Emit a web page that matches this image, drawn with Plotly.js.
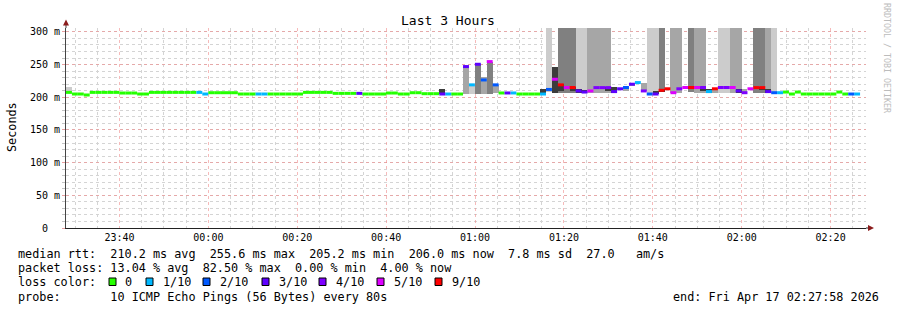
<!DOCTYPE html>
<html><head><meta charset="utf-8">
<script src="https://cdn.plot.ly/plotly-3.0.1.min.js"></script>
<style>html,body{margin:0;padding:0;background:#fff}#chart{width:897px;height:310px}</style>
</head><body><div id="chart"></div>
<script>
// ---- data ----
const stepMs = 80000; // one probe round = 80 s
const startTime = Date.UTC(2026, 3, 16, 23, 27, 58);
const endTime = Date.UTC(2026, 3, 17, 2, 27, 58);

// median rtt per probe round (ms)
const medianMs = [
  207.5,205,205,203.5,207.5,207.5,207.5,207.5,207.5,206.5,
  206.5,206.5,205,205,207.5,207.5,207.5,207.5,207.5,207.5,
  207.5,207.5,207.5,205,207,207,207,207,207,205,
  205,205,205,205,205,205,205,205,205,205,
  207.5,207.5,207.5,207.5,207.5,206,206,206,206,206,
  205,205,205,205,206.5,206.5,205,205,207,207,
  205.5,205.5,205.5,205,205,205,205,247,219,250.5,
  226.5,254.6,219,206.6,206.6,206.6,205,205,205,205,
  205,212,227.6,219,215,215,209.7,208,209.7,214.8,
  214.8,214.8,208.7,213,215,220,222.5,209.7,205,205,
  210.7,213,207,213,215,215,215,215,208.7,213,
  215,215,215,209.7,207,213,214.8,214.8,208.7,207,
  207,208,205,208,205,205,205,205,205,205,
  208,205,205,205
];
// lost pings (of 10) per probe round
const lostPings = [
  0,0,0,0,0,0,0,0,0,0,
  0,0,0,0,0,0,0,0,0,0,
  0,0,1,1,0,0,0,0,0,0,
  0,0,1,1,0,0,0,0,0,0,
  0,0,0,0,0,0,0,0,0,3,
  0,0,0,0,0,0,0,0,0,0,
  0,0,0,3,1,0,0,3,1,3,
  2,5,2,0,3,1,0,0,0,0,
  1,2,5,9,5,9,3,3,5,4,
  4,4,3,3,2,3,1,4,2,3,
  9,9,5,4,5,9,5,4,1,9,
  4,4,5,3,4,5,9,9,3,2,
  1,0,0,0,0,0,0,0,0,0,
  0,0,2,1
];
const lossClasses = [0, 1, 2, 3, 4, 5, 9];
const lossLabels = ['0', '1/10', '2/10', '3/10', '4/10', '5/10', '9/10'];
const lossColors = ['#26ff00', '#00b8ff', '#0059ff', '#5e00ff', '#7e00ff', '#dd00ff', '#ff0000'];

// smoke (ping spread) per probe round: step index, low, high (ms), shade
const smokeStep  = [0,63,67,68,69,70,71,72,80,81,82,83,84,85,86,87,88,89,90,91,92,94,95,97,98,99,100,102,103,105,106,107,108,109,110,111,112,113,114,116,117,118,119,
                    83,85,86,87,91,99,100,105,107,113,117,118];
const smokeLo    = [207,205,205,205,205,205,205,207,205,208,206,207,207,207,206,206,206,206,206,206,207,209,217,209,205,205,208,207,207,208,207,207,207,207,207,207,207,207,207,207,207,207,207,
                    210,209,206,206,210,205,208,212,209,207,211,207];
const smokeHi    = [215,212.7,247,219,250.5,231,254.6,219,212,330,246,330,330,330,330,330,330,330,330,330,215,215,222,222,330,330,330,330,330,330,330,330,213,213,330,330,330,330,212,330,330,330,330,
                    220,216,212,211,215,209,213,216,215,212,215,212];
const smokeShade = [1,4,2,1,3,2,3,2,4,1,4,3,3,3,1,1,2,2,2,2,4,2,2,2,1,1,3,2,2,3,2,2,4,2,1,1,2,2,2,3,3,2,1,
                    4,4,4,4,4,4,4,4,4,4,4,4];
const shadeColors = {1: '#cccccc', 2: '#a6a6a6', 3: '#808080', 4: '#3c3c3c'};

const yTickVals = [0, 50, 100, 150, 200, 250, 300];
const yTickText = ['0\u00a0\u00a0', '50 m', '100 m', '150 m', '200 m', '250 m', '300 m'];

// ---- build ----
const traces = [];
[1, 2, 3, 4].forEach(sh => {
  const x = [], base = [], y = [];
  smokeStep.forEach((k, i) => {
    if (smokeShade[i] !== sh) return;
    x.push(startTime + (k + 0.5) * stepMs);
    base.push(smokeLo[i]);
    y.push(smokeHi[i] - smokeLo[i]);
  });
  traces.push({type: 'bar', x: x, y: y, base: base, width: stepMs,
    marker: {color: shadeColors[sh], line: {width: 0}}, hoverinfo: 'skip', showlegend: false});
});
lossClasses.forEach((lc, ci) => {
  const x = [], y = [];
  medianMs.forEach((v, k) => {
    if (lostPings[k] !== lc) return;
    x.push(startTime + k * stepMs, startTime + (k + 1) * stepMs, null);
    y.push(v, v, null);
  });
  traces.push({type: 'scatter', mode: 'lines', x: x, y: y,
    line: {color: lossColors[ci], width: 3}, connectgaps: false, hoverinfo: 'skip', showlegend: false});
});

const L = 66, R = 866, T = 28, B = 228;
const px = v => (v - L) / (R - L);
const py = v => (B - v) / (B - T);
const nb = s => s.replace(/ /g, '\u00a0');
const mono = 'DejaVu Sans Mono, monospace';

const ann = [];
const txt = (x, y, s, opt) => Object.assign({xref: 'paper', yref: 'paper', x: px(x), y: py(y), text: nb(s),
  showarrow: false, xanchor: 'left', yanchor: 'middle', font: {family: mono, size: 11.8, color: '#000'}}, opt || {});

ann.push(txt(16, 254, 'median rtt:  210.2 ms avg  255.6 ms max  205.2 ms min  206.0 ms now  7.8 ms sd  27.0   am/s'));
ann.push(txt(16, 268, 'packet loss: 13.04 % avg  82.50 % max  0.00 % min  4.00 % now'));
ann.push(txt(16, 282, 'loss color:'));
ann.push(txt(16, 296.5, 'probe:       10 ICMP Echo Pings (56 Bytes) every 80s'));
ann.push(txt(881, 296.5, 'end: Fri Apr 17 02:27:58 2026', {xanchor: 'right'}));
ann.push(txt(12, 127, 'Seconds', {xanchor: 'center', textangle: -90}));
ann.push(txt(887, 58, 'RRDTOOL / TOBI OETIKER', {xanchor: 'center', textangle: 90,
  font: {family: mono, size: 8.3, color: '#bcbcbc'}}));

const shapes = [];
const sqX = [109, 146, 203, 262, 319, 377, 435];
const lbX = [123, 161, 218, 277, 334, 392, 450];
lossLabels.forEach((lab, i) => {
  shapes.push({type: 'rect', xref: 'paper', yref: 'paper', x0: px(sqX[i]), x1: px(sqX[i] + 7),
    y0: py(278), y1: py(285.5), fillcolor: lossColors[i], line: {color: '#000', width: 1}});
  ann.push(txt(lbX[i], 282, lab));
});
// axis extensions and arrows
shapes.push({type: 'line', xref: 'paper', yref: 'paper', x0: 0, x1: 0, y0: 1, y1: py(22), line: {color: '#444', width: 1}});
shapes.push({type: 'line', xref: 'paper', yref: 'paper', x0: 1, x1: px(870), y0: 0, y1: 0, line: {color: '#222', width: 1}});
shapes.push({type: 'path', xref: 'paper', yref: 'paper',
  path: `M ${px(63)},${py(25.5)} L ${px(69)},${py(25.5)} L ${px(66)},${py(19.5)} Z`,
  fillcolor: '#8b1c1c', line: {width: 0}});
shapes.push({type: 'path', xref: 'paper', yref: 'paper',
  path: `M ${px(868)},${py(225)} L ${px(868)},${py(231)} L ${px(874)},${py(228)} Z`,
  fillcolor: '#8b1c1c', line: {width: 0}});

const majorGrid = 'rgba(240,140,140,0.6)';
const minorGrid = '#d4d4d4';
const layout = {
  width: 897, height: 310,
  margin: {l: L, r: 897 - R, t: T, b: 310 - B, pad: 0},
  paper_bgcolor: '#ffffff', plot_bgcolor: '#ffffff',
  barmode: 'overlay', bargap: 0, showlegend: false,
  title: {text: 'Last 3 Hours', x: 448 / 897, xref: 'container', xanchor: 'center',
    y: 1 - 20 / 310, yref: 'container', yanchor: 'middle',
    font: {family: mono, size: 13, color: '#000'}},
  xaxis: {type: 'date', range: [startTime, endTime], tick0: Date.UTC(2026, 3, 16, 23, 40, 0), dtick: 1200000,
    tickformat: '%H:%M', showgrid: true, gridcolor: majorGrid, griddash: 'dot', gridwidth: 1,
    minor: {tick0: Date.UTC(2026, 3, 16, 23, 40, 0), dtick: 300000, showgrid: true, gridcolor: minorGrid, griddash: 'dot', gridwidth: 1},
    showline: true, linecolor: '#222', linewidth: 1, zeroline: false, ticks: '',
    tickfont: {family: mono, size: 10, color: '#000'}, fixedrange: true},
  yaxis: {range: [0, 306], tickmode: 'array', tickvals: yTickVals, ticktext: yTickText,
    showgrid: true, gridcolor: majorGrid, griddash: 'dot', gridwidth: 1,
    minor: {dtick: 10, showgrid: true, gridcolor: minorGrid, griddash: 'dot', gridwidth: 1, ticks: 'outside', ticklen: 3, tickcolor: '#c4c4c4'},
    ticks: 'outside', ticklen: 3, tickcolor: '#e8a0a0',
    showline: true, linecolor: '#444', linewidth: 1, zeroline: false,
    tickfont: {family: mono, size: 10, color: '#000'}, fixedrange: true},
  annotations: ann, shapes: shapes
};
Plotly.newPlot('chart', traces, layout, {staticPlot: true, displayModeBar: false});
</script></body></html>
